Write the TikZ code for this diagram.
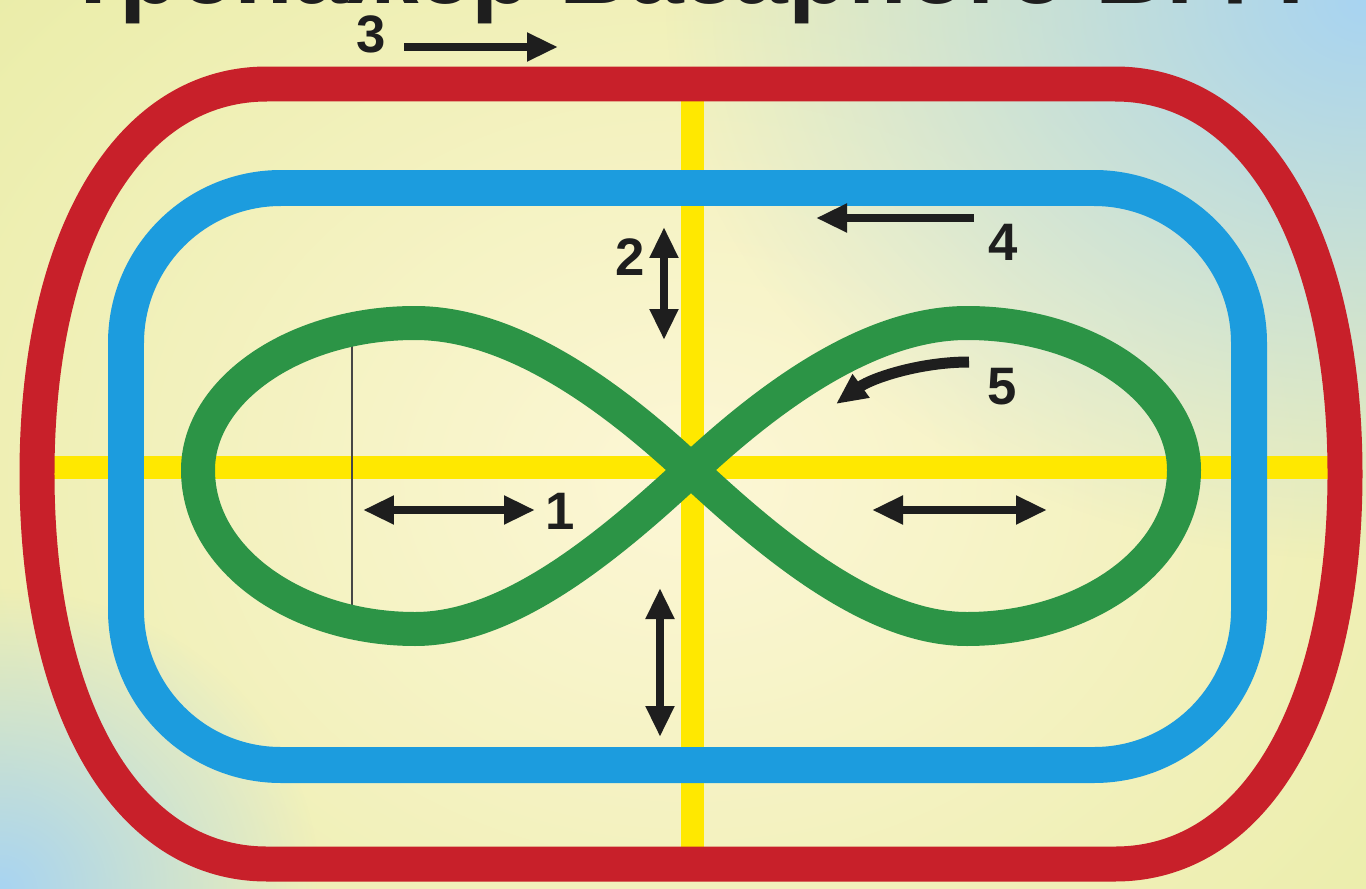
\documentclass[tikz,border=0pt]{standalone}
\usepackage{fontspec}
\setmainfont{Liberation Sans}
\usetikzlibrary{arrows.meta,fadings}
\definecolor{bgY}{RGB}{234,237,168}
\definecolor{cream}{RGB}{253,247,214}
\definecolor{skyb}{RGB}{168,212,242}
\definecolor{redc}{RGB}{200,32,42}
\definecolor{bluec}{RGB}{28,156,222}
\definecolor{greenc}{RGB}{44,148,70}
\definecolor{yellowc}{RGB}{255,232,0}
\definecolor{inkc}{RGB}{30,30,30}
\definecolor{thinc}{RGB}{70,70,70}
\tikzfading[name=softfade, inner color=transparent!0, outer color=transparent!100]
\tikzset{
  tipA/.tip={Triangle[length=0.62cm,width=0.54cm]},
  arr/.style={draw=inkc, line width=0.17cm, -tipA},
  darr/.style={draw=inkc, line width=0.17cm, tipA-tipA},
  num/.style={font=\fontsize{30}{32}\selectfont\bfseries, text=inkc, inner sep=0pt},
  yband/.style={draw=yellowc, line width=0.46cm},
}
\begin{document}
\begin{tikzpicture}[x=0.02cm,y=-0.02cm]
\useasboundingbox (0,0) rectangle (1366,889);
\clip (0,0) rectangle (1366,889);
% background
\fill[bgY] (0,0) rectangle (1366,889);
\fill[cream, path fading=softfade] (690,480) ellipse [x radius=950, y radius=760];
\fill[skyb, path fading=softfade] (1366,0) ellipse [x radius=700, y radius=560];
\fill[skyb, path fading=softfade] (0,889) ellipse [x radius=320, y radius=300];
% title (cut off by the top edge)
\node[anchor=base west, inner sep=0pt, font=\fontsize{56}{60}\selectfont\bfseries, text=inkc] (title) at (63,4) {Тренажер Базарного В.Ф.};
% yellow axes
\coordinate (yl) at (40,467);
\coordinate (yr) at (1345,467);
\coordinate (yt) at (692,84);
\coordinate (yb) at (692,864);
\draw[yband] (yl) -- (yr);
\draw[yband] (yt) -- (yb);
% red track
\draw[redc, line width=0.7cm, line join=round]
  (267,84) -- (1115,84)
  .. controls (1255,84) and (1345,240) .. (1345,474)
  .. controls (1345,708) and (1255,864) .. (1115,864)
  -- (267,864)
  .. controls (127,864) and (37,708) .. (37,474)
  .. controls (37,240) and (127,84) .. (267,84) -- cycle;
% blue track
\draw[bluec, line width=0.72cm, rounded corners=3.1cm] (126,188) rectangle (1249,765);
% thin line
\coordinate (tl1) at (352,336);
\coordinate (tl2) at (352,632);
\draw[thinc, line width=0.6pt] (tl1) -- (tl2);
% green figure eight
\coordinate (C) at (691,470);
\draw[greenc, line width=0.68cm, line join=round]
  (C) .. controls (600,385) and (505,323) .. (415,323)
      .. controls (295,323) and (198,390) .. (198,470)
      .. controls (198,562) and (300,629) .. (415,629)
      .. controls (505,629) and (600,555) .. (C)
      .. controls (782,385) and (877,323) .. (967,323)
      .. controls (1087,323) and (1184,390) .. (1184,470)
      .. controls (1184,562) and (1082,629) .. (967,629)
      .. controls (877,629) and (782,555) .. (C);
% arrows
\coordinate (a3s) at (404,47);  \coordinate (a3e) at (558,47);
\coordinate (a4s) at (974,218); \coordinate (a4e) at (816,218);
\coordinate (a2s) at (664,227); \coordinate (a2e) at (664,340);
\coordinate (a1s) at (363,510); \coordinate (a1e) at (535,510);
\coordinate (a6s) at (872,510); \coordinate (a6e) at (1047,510);
\coordinate (a7s) at (660,588); \coordinate (a7e) at (660,737);
\coordinate (a5s) at (969,362); \coordinate (a5e) at (836,404);
\draw[arr] (a3s) -- (a3e);
\draw[arr] (a4s) -- (a4e);
\draw[darr] (a2s) -- (a2e);
\draw[darr] (a1s) -- (a1e);
\draw[darr] (a6s) -- (a6e);
\draw[darr] (a7s) -- (a7e);
\draw[arr, line width=0.22cm] (a5s) .. controls (920,362) and (872,378) .. (a5e);
% labels
\node[num] (n3) at (371,34) {3};
\node[num] (n4) at (1003,242) {4};
\node[num] (n2) at (630,257) {2};
\node[num] (n5) at (1002,387) {5};
\node[num] (n1) at (560,511) {1};
\end{tikzpicture}
\end{document}
